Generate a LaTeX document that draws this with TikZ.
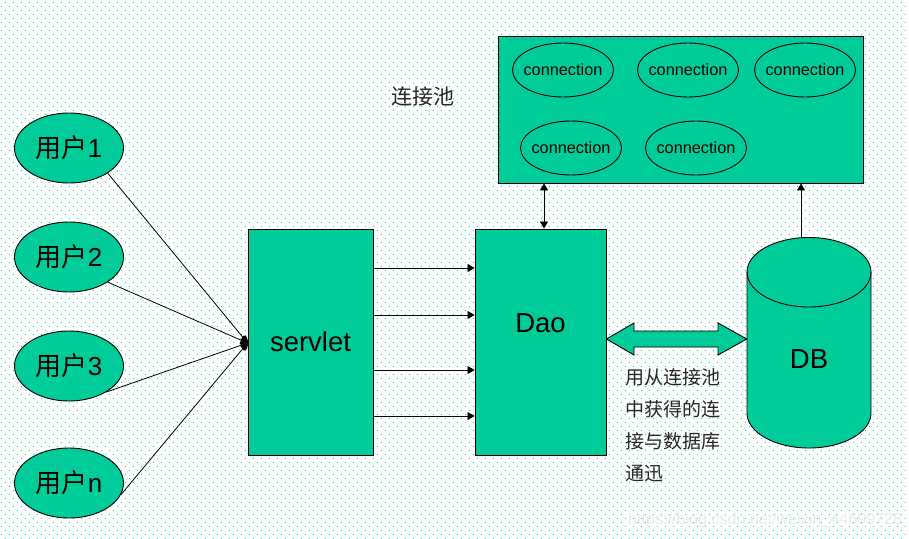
\documentclass[tikz,border=0pt]{standalone}
\usepackage{fontspec}
\setmainfont{Liberation Sans}
\newfontfamily\cjk{Noto Sans CJK SC}
\usetikzlibrary{arrows.meta,shapes.geometric}
\definecolor{teal0}{HTML}{00CC99}
\definecolor{dotc}{HTML}{00E0A0}
\newcommand{\zw}[1]{\makebox[0pt]{#1}}
\tikzset{
  x=1pt,y=-1pt,
  outlined/.style={draw=black,line width=0.9pt,fill=teal0},
  user/.style={outlined,ellipse,minimum width=109pt,minimum height=70pt,inner sep=0pt,font=\fontsize{26}{30}\selectfont},
  conn/.style={outlined,ellipse,minimum width=101pt,minimum height=54pt,inner sep=0pt,font=\fontsize{16.3}{20}\selectfont},
  block/.style={outlined,rectangle,inner sep=0pt,font=\fontsize{27.5}{32}\selectfont},
  bare/.style={inner sep=0pt,font=\fontsize{27.5}{32}\selectfont},
  link/.style={draw=black,line width=0.8pt,-{Triangle[length=7pt,width=8pt]}},
  duplex/.style={draw=black,line width=0.8pt,{Triangle[length=7pt,width=8pt]}-{Triangle[length=7pt,width=8pt]}},
  feed/.style={draw=black,line width=0.8pt,-{Triangle[length=7pt,width=7pt]}},
  dotrow/.style={draw=dotc,line width=1.25pt,dash pattern=on 1.25pt off 6.75pt},
  note/.style={inner sep=0pt,text=black!85,font=\cjk\fontsize{19}{32}\selectfont,align=left,anchor=north west}
}
\begin{document}
\begin{tikzpicture}
\useasboundingbox (0,0) rectangle (909,538);
\fill[white] (0,0) rectangle (909,538);
% dotted background
\foreach \r in {0,...,67}{
  \draw[dotrow,dash phase=3.1pt] (0,{2.5+\r*8}) -- (909,{2.5+\r*8});
  \draw[dotrow,dash phase=7.1pt] (0,{6.5+\r*8}) -- (909,{6.5+\r*8});
}
% pool
\node[outlined,rectangle,minimum width=365pt,minimum height=147pt,inner sep=0pt] (pool) at (680.5,109.5) {};
\node[conn] (c1) at (563,70) {\zw{connection}};
\node[conn] (c2) at (688,70) {\zw{connection}};
\node[conn] (c3) at (805,70) {\zw{connection}};
\node[conn] (c4) at (571,148) {\zw{connection}};
\node[conn] (c5) at (696,148) {\zw{connection}};
\node[inner sep=0pt,text=black!85,font=\cjk\fontsize{21}{24}\selectfont] (poollabel) at (423,97) {连接池};
% users
\node[user] (u1) at (69,148) {{\cjk 用户}1};
\node[user] (u2) at (69,257) {{\cjk 用户}2};
\node[user] (u3) at (69,366) {{\cjk 用户}3};
\node[user] (u4) at (69,483) {{\cjk 用户}n};
% blocks
\node[block,minimum width=125pt,minimum height=226pt] (servlet) at (310.5,342) {servlet};
\node[block,minimum width=131pt,minimum height=226pt] (dao) at (540.5,342) {};
\node[bare] (daolabel) at (540.5,323) {Dao};
% database
\path[outlined] (747,272) -- (747,413) arc[x radius=62,y radius=35,start angle=180,end angle=0] -- (871,272) arc[x radius=62,y radius=34.5,start angle=0,end angle=-180] -- cycle;
\draw[draw=black,line width=0.9pt] (747,272) arc[x radius=62,y radius=35,start angle=-180,end angle=-360];
\node[inner sep=0pt,minimum width=124pt,minimum height=210pt] (db) at (809,343) {};
\node[bare] (dblabel) at (809,359) {DB};
% wide double arrow
\path[outlined] ([yshift=3pt]dao.east) -- (634,323) -- (634,331) -- (718,331) -- (718,323) -- ([yshift=4pt]db.west) -- (718,355) -- (718,347) -- (634,347) -- (634,355) -- cycle;
\node[note] (note) at (625,368) {用从连接池\\中获得的连\\接与数据库\\通迅};
% connectors
\coordinate (hub) at ([yshift=-1pt]servlet.west);
\draw[feed] (u1.-33.7) -- (hub);
\draw[feed] (u2.-33) -- (hub);
\draw[feed] (u3.-35) -- (hub);
\draw[feed] (u4.-13) -- (hub);
\fill[black] (244.5,343) ellipse[x radius=3.5,y radius=7.5];
\draw[link] ([yshift=74pt]servlet.east) -- ([yshift=74pt]dao.west);
\draw[link] ([yshift=27pt]servlet.east) -- ([yshift=27pt]dao.west);
\draw[link] ([yshift=-28pt]servlet.east) -- ([yshift=-28pt]dao.west);
\draw[link] ([yshift=-74pt]servlet.east) -- ([yshift=-74pt]dao.west);
\draw[duplex] ([xshift=3.5pt]dao.north) -- ([xshift=-136.5pt]pool.south);
\draw[link] ([xshift=-8pt]db.north) -- ([xshift=120.5pt]pool.south);
% watermark
\node[inner sep=0pt,text=black!8,font=\fontsize{16.1}{18}\selectfont,anchor=west] (mark) at (628,520) {https://blog.csdn.net/weixin\_44699728};
\end{tikzpicture}
\end{document}
